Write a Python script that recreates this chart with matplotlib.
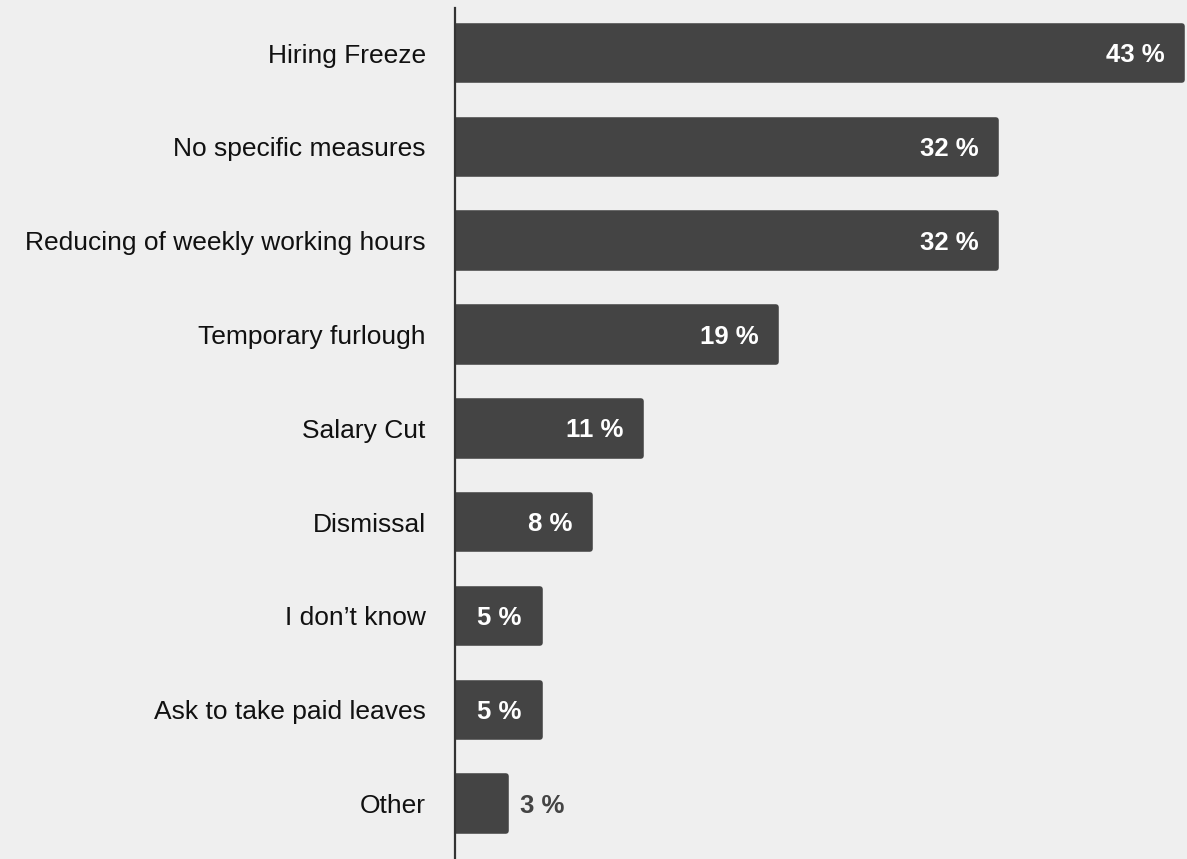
import matplotlib
matplotlib.use("Agg")
import matplotlib.pyplot as plt
import matplotlib.patheffects as pe

categories = ["Hiring Freeze", "No specific measures", "Reducing of weekly working hours",
              "Temporary furlough", "Salary Cut", "Dismissal", "I don\u2019t know",
              "Ask to take paid leaves", "Other"]
shares = [43, 32, 32, 19, 11, 8, 5, 5, 3]

bg = "#efefef"
bar_color = "#444444"

plt.rcParams["font.family"] = ["Liberation Sans", "DejaVu Sans"]

fig = plt.figure(figsize=(11.87, 8.59), dpi=100, facecolor=bg)
ax = fig.add_axes([0.3833, 0.0, 0.6150, 0.9907], facecolor=bg)

pos = list(range(len(categories)))
# thick edge with round joins gives the bars softly rounded corners
bars = ax.barh(pos, shares, height=0.58, color=bar_color, edgecolor=bar_color,
               linewidth=4, joinstyle="round", zorder=2)
for b in bars:
    b.set_path_effects([pe.SimplePatchShadow(offset=(0.8, -1.2), shadow_rgbFace="#888888", alpha=0.5),
                        pe.Normal()])

ax.set_xlim(0, 43.15)
ax.set_ylim(8.59, -0.48)

for y, v in zip(pos, shares):
    if v >= 5:
        ax.annotate(f"{v} %", (v, y), xytext=(-13, -1.5), textcoords="offset points",
                    ha="right", va="center", color="white", fontsize=18.5,
                    fontweight="bold", zorder=3)
    else:
        ax.annotate(f"{v} %", (v, y), xytext=(10, -1.5), textcoords="offset points",
                    ha="left", va="center", color=bar_color, fontsize=18.5,
                    fontweight="bold", zorder=3)

ax.set_yticks(pos)
ax.set_yticklabels(categories, fontsize=19, color="#111111", va="center_baseline")
ax.tick_params(axis="y", length=0, pad=21)
ax.set_xticks([])
for side in ["top", "right", "bottom"]:
    ax.spines[side].set_visible(False)
ax.spines["left"].set_color("#333333")
ax.spines["left"].set_linewidth(1.6)
ax.spines["left"].set_zorder(4)

fig.savefig("out.png", dpi=100, facecolor=bg)
